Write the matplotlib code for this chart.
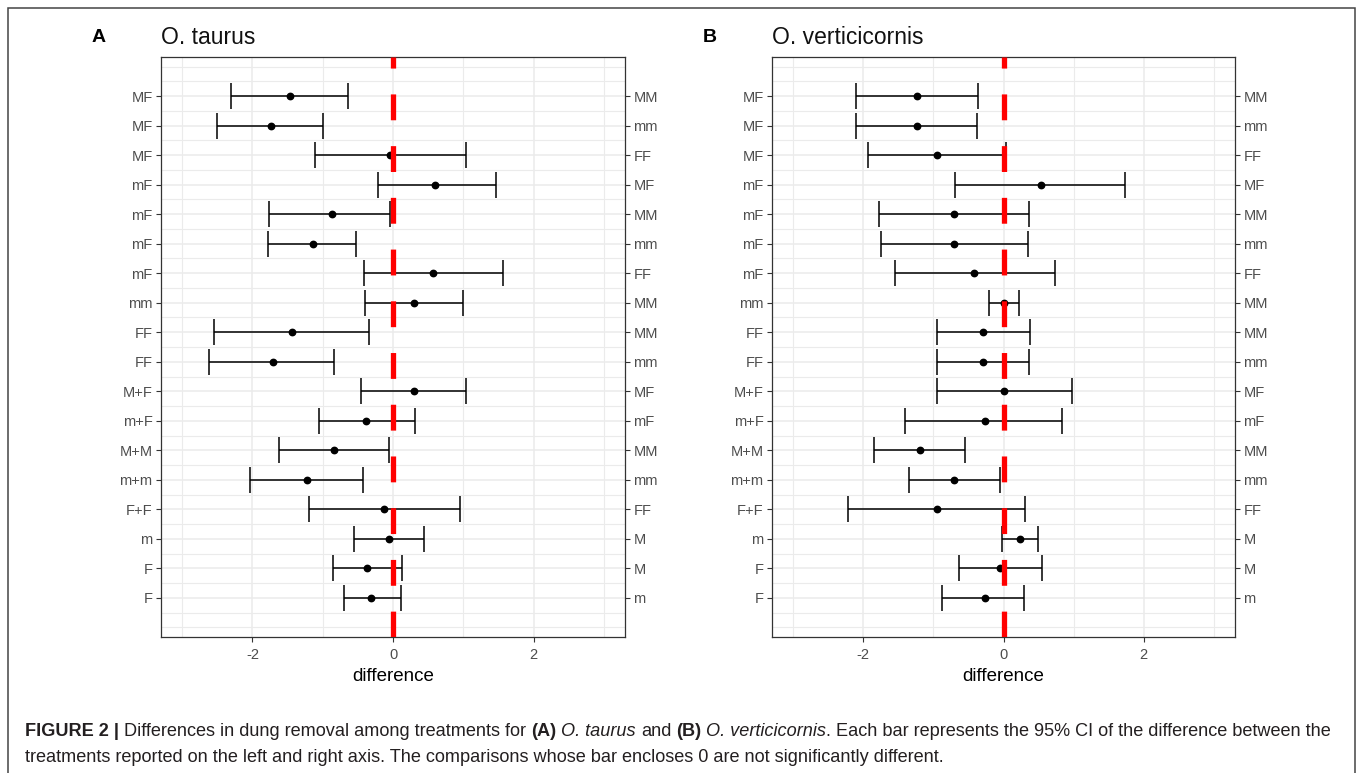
import numpy as np
import matplotlib
matplotlib.use("Agg")
import matplotlib.pyplot as plt
from matplotlib.patches import Rectangle

plt.rcParams['font.family'] = ['Liberation Sans', 'DejaVu Sans']
plt.rcParams['axes.unicode_minus'] = False

# comparisons, top to bottom
left_labels = ["MF", "MF", "MF", "mF", "mF", "mF", "mF", "mm", "FF", "FF",
               "M+F", "m+F", "M+M", "m+m", "F+F", "m", "F", "F"]
right_labels = ["MM", "mm", "FF", "MF", "MM", "mm", "FF", "MM", "MM", "mm",
                "MF", "mF", "MM", "mm", "FF", "M", "M", "m"]

# O. taurus: estimate and 95% CI
taurus_est = [-1.47, -1.74, -0.04, 0.60, -0.87, -1.14, 0.57, 0.30, -1.44, -1.71,
              0.30, -0.38, -0.84, -1.22, -0.13, -0.05, -0.37, -0.31]
taurus_lo = [-2.31, -2.51, -1.11, -0.21, -1.77, -1.78, -0.41, -0.40, -2.55, -2.62,
             -0.45, -1.05, -1.62, -2.04, -1.20, -0.55, -0.85, -0.70]
taurus_hi = [-0.64, -0.99, 1.04, 1.46, -0.04, -0.53, 1.57, 0.99, -0.34, -0.84,
             1.04, 0.31, -0.06, -0.43, 0.95, 0.44, 0.13, 0.11]

# O. verticicornis
vert_est = [-1.24, -1.24, -0.95, 0.53, -0.71, -0.71, -0.42, 0.00, -0.29, -0.29,
            0.00, -0.27, -1.19, -0.71, -0.95, 0.23, -0.05, -0.27]
vert_lo = [-2.10, -2.10, -1.93, -0.69, -1.77, -1.75, -1.54, -0.21, -0.95, -0.95,
           -0.95, -1.40, -1.84, -1.35, -2.22, -0.02, -0.63, -0.87]
vert_hi = [-0.36, -0.38, 0.04, 1.73, 0.36, 0.35, 0.73, 0.22, 0.38, 0.37,
           0.97, 0.84, -0.55, -0.05, 0.31, 0.49, 0.55, 0.29]

W, H = 1357, 773
fig = plt.figure(figsize=(W / 100, H / 100), dpi=100)

TICK_COL = "#4d4d4d"
GRID_COL = "#ebebeb"


def panel(rect, est, lo, hi, letter, title):
    est, lo, hi = np.array(est), np.array(lo), np.array(hi)
    n = len(est)
    y = np.arange(n, 0, -1)
    ax = fig.add_axes(rect)
    ax.errorbar(est, y, xerr=[est - lo, hi - est], fmt='o', color='black',
                ms=4.6, lw=1.1, elinewidth=1.1, capsize=9.3, capthick=1.1, zorder=3)
    ax.axvline(0, color='#ff0000', lw=3.8, ls=(0, (4.9, 4.9)), zorder=4)
    ax.set_xlim(-3.3, 3.3)
    ax.set_ylim(-0.33, n + 1.33)
    ax.set_xticks([-2, 0, 2])
    ax.set_xticks([-3, -1, 1, 3], minor=True)
    ax.set_yticks(y)
    ax.set_yticklabels(left_labels)
    ax.set_yticks([v for v in np.arange(0, n + 1.5, 0.5) if v not in y], minor=True)
    ax.grid(True, which='major', color=GRID_COL, lw=1.1, zorder=0)
    ax.grid(True, which='minor', color=GRID_COL, lw=0.8, zorder=0)
    ax.set_axisbelow(True)
    ax.tick_params(which='minor', length=0)
    ax.tick_params(which='major', length=3.5, width=0.8, color='#333333',
                   labelcolor=TICK_COL, labelsize=10.5, pad=2.5)
    ax.tick_params(axis='x', pad=4.5)
    for s in ax.spines.values():
        s.set_color('#333333')
        s.set_linewidth(0.9)
    ax.set_xlabel("difference", fontsize=13.5, color='black', labelpad=4)

    ax2 = ax.twinx()
    ax2.set_ylim(ax.get_ylim())
    ax2.set_yticks(y)
    ax2.set_yticklabels(right_labels)
    ax2.tick_params(length=3.5, width=0.8, color='#333333',
                    labelcolor=TICK_COL, labelsize=10.5, pad=2.5)
    for s in ax2.spines.values():
        s.set_visible(False)

    x0 = rect[0]
    fig.text(x0 - 69 / W, 1 - 38 / H, letter, fontsize=14, fontweight='bold', va='center')
    fig.text(x0, 1 - 38 / H, title, fontsize=16.5, va='center', color='#111111')
    return ax


panel([161 / W, 1 - 637 / H, 464 / W, 580 / H], taurus_est, taurus_lo, taurus_hi,
      "A", "O. taurus")
panel([772 / W, 1 - 637 / H, 463 / W, 580 / H], vert_est, vert_lo, vert_hi,
      "B", "O. verticicornis")

# outer frame
fig.patches.append(Rectangle((8 / W, -0.05), 1347 / W, 1.05 - 8 / H, fill=False,
                             edgecolor='#444444', lw=1.1, transform=fig.transFigure))

# caption with mixed styles
renderer = fig.canvas.get_renderer()
CAP_SIZE = 13.1
CAP_COL = "#231f20"


def text_width(s, **kw):
    t = fig.text(0, 0, s, fontsize=CAP_SIZE, **kw)
    w = t.get_window_extent(renderer).width
    t.remove()
    return w


space = text_width("x x") - text_width("xx")

line1 = [("FIGURE 2 |", 'bold', 'normal', False),
         ("Differences in dung removal among treatments for", 'normal', 'normal', True),
         ("(A)", 'bold', 'normal', True),
         ("O. taurus", 'normal', 'italic', True),
         ("and", 'normal', 'normal', True),
         ("(B)", 'bold', 'normal', True),
         ("O. verticicornis", 'normal', 'italic', True),
         (". Each bar represents the 95% CI of the difference between the", 'normal', 'normal', False)]
line2 = [("treatments reported on the left and right axis. The comparisons whose bar "
          "encloses 0 are not significantly different.", 'normal', 'normal', False)]


def put_line(runs, ypix):
    x = 25.0
    for s, weight, style, gap in runs:
        if gap:
            x += space
        t = fig.text(x / W, 1 - ypix / H, s, fontsize=CAP_SIZE, fontweight=weight,
                     fontstyle=style, color=CAP_COL, va='center')
        x += t.get_window_extent(renderer).width


put_line(line1, 732)
put_line(line2, 758)

fig.savefig("out.png", dpi=100)
